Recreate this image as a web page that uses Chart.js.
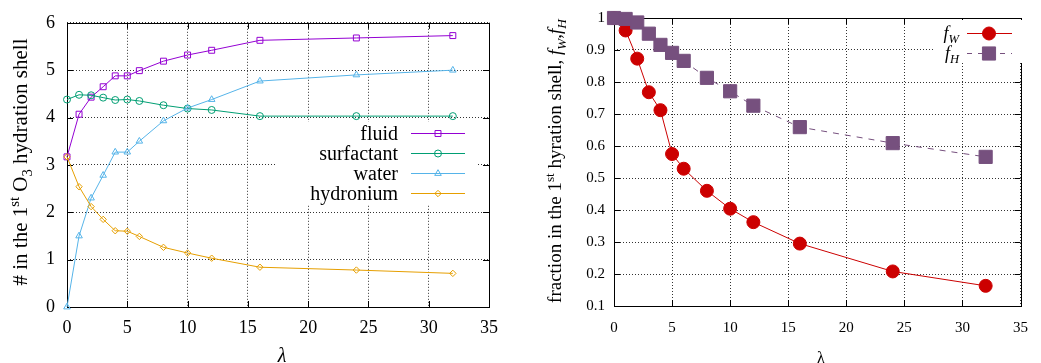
<!DOCTYPE html>
<html>
<head>
<meta charset="utf-8">
<script src="https://cdn.jsdelivr.net/npm/chart.js@4.4.0/dist/chart.umd.min.js"></script>
<style>
  body { margin: 0; background: #fff; }
  .row { display: flex; width: 1041px; height: 363px; }
  canvas { display: block; }
</style>
</head>
<body>
<div class="row">
  <canvas id="left" width="520" height="363"></canvas>
  <canvas id="right" width="521" height="363"></canvas>
</div>
<script>
const lambda = [0, 1, 2, 3, 4, 5, 6, 8, 10, 12, 16, 24, 32];

// left panel: number of molecules in the first O3 hydration shell
const fluid      = [3.17, 4.07, 4.43, 4.65, 4.88, 4.88, 4.99, 5.19, 5.32, 5.42, 5.63, 5.68, 5.73];
const surfactant = [4.38, 4.48, 4.47, 4.42, 4.37, 4.38, 4.35, 4.26, 4.19, 4.16, 4.03, 4.03, 4.03];
const water      = [0.00, 1.50, 2.30, 2.78, 3.27, 3.27, 3.50, 3.93, 4.20, 4.38, 4.77, 4.90, 5.00];
const hydronium  = [3.17, 2.54, 2.12, 1.85, 1.61, 1.60, 1.49, 1.26, 1.14, 1.03, 0.84, 0.78, 0.71];

// right panel: fractions
const fW = [1.000, 0.961, 0.873, 0.768, 0.712, 0.575, 0.529, 0.460, 0.404, 0.362, 0.295, 0.208, 0.163];
const fH = [1.000, 0.997, 0.986, 0.951, 0.916, 0.891, 0.866, 0.813, 0.771, 0.726, 0.659, 0.609, 0.566];

const xTicks = [0, 5, 10, 15, 20, 25, 30, 35];
const countTicks = [0, 1, 2, 3, 4, 5, 6];
const fracTicks = [0.1, 0.2, 0.3, 0.4, 0.5, 0.6, 0.7, 0.8, 0.9, 1.0];
const fracLabels = ['0.1', '0.2', '0.3', '0.4', '0.5', '0.6', '0.7', '0.8', '0.9', '1'];

const FONT = '"Liberation Serif", "DejaVu Serif", serif';

function pts(ys) {
    return lambda.map((x, i) => ({ x: x, y: ys[i] }));
}

// draw text made of pieces: [text, flags] with flags 'i' italic, '^' superscript, '_' subscript
function richText(ctx, segs, x, y, size, align, rot) {
    const parts = segs.map(([t, f = '']) => {
        const small = f.includes('^') || f.includes('_');
        const sz = small ? size * 0.7 : size;
        const font = (f.includes('i') ? 'italic ' : '') + sz + 'px ' + FONT;
        ctx.font = font;
        return { t, font, w: ctx.measureText(t).width, dy: f.includes('^') ? -size * 0.4 : f.includes('_') ? size * 0.25 : 0 };
    });
    const total = parts.reduce((s, p) => s + p.w, 0);
    ctx.save();
    ctx.translate(x, y);
    ctx.rotate(rot || 0);
    ctx.fillStyle = '#000';
    ctx.textBaseline = 'alphabetic';
    ctx.textAlign = 'left';
    let cx = align === 'right' ? -total : align === 'center' ? -total / 2 : 0;
    const base = size * 0.33;
    for (const p of parts) {
        ctx.font = p.font;
        ctx.fillText(p.t, cx, base + p.dy);
        cx += p.w;
    }
    ctx.restore();
}

function marker(ctx, item, x, y) {
    ctx.save();
    ctx.strokeStyle = item.color;
    ctx.fillStyle = item.filled ? item.color : 'rgba(0,0,0,0)';
    ctx.lineWidth = 1;
    ctx.setLineDash([]);
    Chart.helpers.drawPoint(ctx, { pointStyle: item.style, radius: item.radius, borderWidth: 1, rotation: 0 }, x, y);
    ctx.restore();
}

// gnuplot-like frame with inward ticks on all four sides
const framePlugin = {
    id: 'frame',
    beforeDatasetsDraw(chart) {
        const { ctx, chartArea: a, scales } = chart;
        ctx.save();
        ctx.strokeStyle = '#000';
        ctx.lineWidth = 1;
        ctx.setLineDash([]);
        ctx.strokeRect(Math.round(a.left) + 0.5, Math.round(a.top) + 0.5, Math.round(a.right - a.left), Math.round(a.bottom - a.top));
        const len = 6;
        ctx.beginPath();
        scales.x.ticks.forEach(t => {
            const px = Math.round(scales.x.getPixelForValue(t.value)) + 0.5;
            ctx.moveTo(px, a.bottom); ctx.lineTo(px, a.bottom - len);
            ctx.moveTo(px, a.top); ctx.lineTo(px, a.top + len);
        });
        scales.y.ticks.forEach(t => {
            const py = Math.round(scales.y.getPixelForValue(t.value)) + 0.5;
            ctx.moveTo(a.left, py); ctx.lineTo(a.left + len, py);
            ctx.moveTo(a.right, py); ctx.lineTo(a.right - len, py);
        });
        ctx.stroke();
        ctx.restore();
    }
};

// opaque key box and axis titles
const keyPlugin = {
    id: 'key',
    afterDatasetsDraw(chart, args, o) {
        const ctx = chart.ctx;
        ctx.save();
        ctx.fillStyle = '#fff';
        ctx.fillRect(o.box[0], o.box[1], o.box[2], o.box[3]);
        o.items.forEach((item, i) => {
            const y = o.rows[i];
            richText(ctx, item.label, o.textRight, y, o.size, 'right', 0);
            ctx.strokeStyle = item.color;
            ctx.lineWidth = 1;
            ctx.setLineDash(item.dash || []);
            ctx.beginPath();
            ctx.moveTo(o.line[0], y + 0.5);
            ctx.lineTo(o.line[1], y + 0.5);
            ctx.stroke();
            marker(ctx, item, o.mark, y + 0.5);
        });
        ctx.restore();
    },
    afterDraw(chart, args, o) {
        const ctx = chart.ctx;
        o.titles.forEach(t => richText(ctx, t.segs, t.x, t.y, t.size, 'center', t.rot || 0));
    }
};

function axes(cfg) {
    return {
        x: {
            type: 'linear', min: 0, max: 35,
            afterBuildTicks: s => { s.ticks = xTicks.map(v => ({ value: v })); },
            afterFit: s => { s.height = cfg.xh; },
            ticks: { font: { family: FONT, size: cfg.fs }, color: '#000', padding: cfg.xpad, maxRotation: 0, autoSkip: false },
            grid: { color: '#333', lineWidth: 1, drawTicks: false },
            border: { display: false, dash: [1, 2] }
        },
        y: {
            type: 'linear', min: cfg.ymin, max: cfg.ymax,
            afterBuildTicks: s => { s.ticks = cfg.yTicks.map(v => ({ value: v })); },
            afterFit: s => { s.width = cfg.yw; },
            ticks: { font: { family: FONT, size: cfg.fs }, color: '#000', padding: cfg.ypad, autoSkip: false,
                     callback: (v, i) => cfg.yLabels[i] },
            grid: { color: '#333', lineWidth: 1, drawTicks: false },
            border: { display: false, dash: [1, 2] }
        }
    };
}

function series(label, ys, color, style, radius, filled, order, dash) {
    return {
        label: label,
        data: pts(ys),
        borderColor: color,
        backgroundColor: color,
        borderWidth: 1,
        borderDash: dash || [],
        pointStyle: style,
        pointRadius: radius,
        pointBorderWidth: 1,
        pointBorderColor: color,
        pointBackgroundColor: filled ? color : 'rgba(0,0,0,0)',
        tension: 0,
        fill: false,
        clip: false,
        order: order
    };
}

const leftItems = [
    { label: [['fluid']], color: '#9400d3', style: 'rect', radius: 4.2 },
    { label: [['surfactant']], color: '#009e73', style: 'circle', radius: 3.5 },
    { label: [['water']], color: '#56b4e9', style: 'triangle', radius: 3.8 },
    { label: [['hydronium']], color: '#e69f00', style: 'rectRot', radius: 3.2 }
];

new Chart(document.getElementById('left'), {
    type: 'line',
    data: {
        datasets: [
            series('fluid', fluid, '#9400d3', 'rect', 4.2, false, 3),
            series('surfactant', surfactant, '#009e73', 'circle', 3.5, false, 2),
            series('water', water, '#56b4e9', 'triangle', 3.8, false, 1),
            series('hydronium', hydronium, '#e69f00', 'rectRot', 3.2, false, 0)
        ]
    },
    options: {
        responsive: false,
        devicePixelRatio: 1,
        animation: false,
        layout: { padding: { left: 0, right: 31, top: 20, bottom: 0 } },
        scales: axes({ xh: 56, yw: 67, fs: 18, xpad: 10, ypad: 12, ymin: 0, ymax: 6,
                       yTicks: countTicks, yLabels: countTicks.map(String) }),
        plugins: {
            legend: { display: false },
            tooltip: { enabled: false },
            key: {
                box: [277, 122, 200, 82],
                items: leftItems,
                rows: [133, 153, 173, 193],
                textRight: 398, line: [411, 465], mark: 438, size: 20,
                titles: [
                    { segs: [['# in the 1'], ['st', '^'], [' O'], ['3', '_'], [' hydration shell']], x: 20, y: 162, size: 21, rot: -Math.PI / 2 },
                    { segs: [['λ', 'i']], x: 282, y: 355, size: 20 }
                ]
            }
        }
    },
    plugins: [keyPlugin, framePlugin]
});

const rightItems = [
    { label: [['f', 'i'], ['W', 'i_']], color: '#cc0000', style: 'circle', radius: 6.5, filled: true },
    { label: [['f', 'i'], ['H', 'i_']], color: '#76507e', style: 'rect', radius: 9.3, filled: true, dash: [5, 6] }
];

new Chart(document.getElementById('right'), {
    type: 'line',
    data: {
        datasets: [
            series('fW', fW, '#cc0000', 'circle', 6.5, true, 1),
            series('fH', fH, '#76507e', 'rect', 9.3, true, 0, [6, 6])
        ]
    },
    options: {
        responsive: false,
        devicePixelRatio: 1,
        animation: false,
        layout: { padding: { left: 0, right: 12, top: 14, bottom: 0 } },
        scales: axes({ xh: 57, yw: 94, fs: 15, xpad: 13, ypad: 9, ymin: 0.1, ymax: 1,
                       yTicks: fracTicks, yLabels: fracLabels }),
        plugins: {
            legend: { display: false },
            tooltip: { enabled: false },
            key: {
                box: [415, 20, 90, 43],
                items: rightItems,
                rows: [33, 53],
                textRight: 439, line: [447, 492], mark: 469, size: 18,
                titles: [
                    { segs: [['fraction in the 1'], ['st', '^'], [' hyration shell, '], ['f', 'i'], ['W', 'i_'], [','], ['f', 'i'], ['H', 'i_']],
                      x: 35, y: 161, size: 19, rot: -Math.PI / 2 },
                    { segs: [['λ']], x: 301, y: 358, size: 16 }
                ]
            }
        }
    },
    plugins: [keyPlugin, framePlugin]
});
</script>
</body>
</html>
